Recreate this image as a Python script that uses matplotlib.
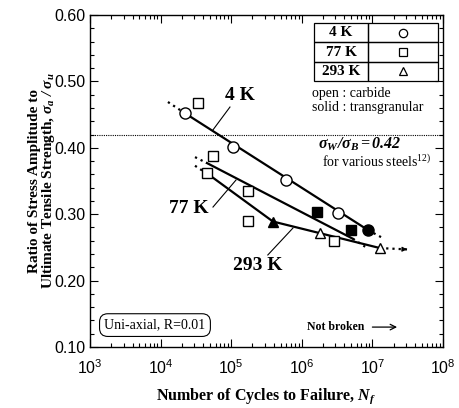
import numpy as np
import matplotlib
matplotlib.use("Agg")
import matplotlib.pyplot as plt
from matplotlib.patches import Rectangle
from matplotlib.ticker import FuncFormatter, MultipleLocator, LogLocator

plt.rcParams['mathtext.fontset'] = 'custom'
plt.rcParams['mathtext.rm'] = 'Liberation Serif'
plt.rcParams['mathtext.it'] = 'Liberation Serif:italic'
plt.rcParams['mathtext.bf'] = 'Liberation Serif:bold:italic'
plt.rcParams['mathtext.sf'] = 'Liberation Sans'

SERIF = 'Liberation Serif'
SANS = 'Liberation Sans'

# --- data ---
# 4 K
n_4k_open = [2.2e4, 1.07e5, 6.0e5, 3.3e6]
r_4k_open = [0.452, 0.401, 0.352, 0.302]
n_4k_solid = [8.7e6]
r_4k_solid = [0.276]
# 77 K
n_77k_open = [3.4e4, 5.5e4, 4.5e4, 1.74e5, 1.74e5, 2.9e6]
r_77k_open = [0.467, 0.388, 0.362, 0.335, 0.290, 0.260]
n_77k_solid = [1.65e6, 5.0e6]
r_77k_solid = [0.303, 0.276]
# 293 K
n_293k_open = [1.8e6, 1.3e7]
r_293k_open = [0.272, 0.249]
n_293k_solid = [3.9e5]
r_293k_solid = [0.289]

# fitted S-N lines (solid part) and dotted extensions
fit_4k_n = [2.22e4, 8.7e6]
fit_4k_r = [0.452, 0.276]
ext_4k_n = [[1.27e4, 2.22e4], [8.7e6, 1.41e7]]
ext_4k_r = [[0.469, 0.452], [0.276, 0.264]]

fit_77k_a_n = [4.54e4, 5.3e6]
fit_77k_a_r = [0.377, 0.263]
ext_77k_a_n = [[3.07e4, 4.54e4], [5.3e6, 7.9e6]]
ext_77k_a_r = [[0.386, 0.377], [0.263, 0.251]]

fit_77k_b_n = [5.35e4, 3.9e5]
fit_77k_b_r = [0.356, 0.289]
ext_77k_b_n = [3.07e4, 5.35e4]
ext_77k_b_r = [0.373, 0.356]

fit_293k_n = [3.9e5, 1.28e7]
fit_293k_r = [0.289, 0.249]
runout_293k_n = [1.28e7, 3.1e7]
runout_293k_r = [0.249, 0.247]

fatigue_limit_ratio = 0.42
temps = ['4 K', '77 K', '293 K']
temp_markers = ['o', 's', '^']

fig = plt.figure(figsize=(4.6, 4.08), dpi=100)
ax = fig.add_axes([0.1957, 0.1495, 0.7673, 0.8137])
ax.set_xscale('log')
ax.set_xlim(1e3, 1e8)
ax.set_ylim(0.10, 0.60)

lw = 1.6
dot = (0, (1, 1.8))

# lines
ax.plot(fit_4k_n, fit_4k_r, color='k', lw=lw, zorder=2)
for xs, ys in zip(ext_4k_n, ext_4k_r):
    ax.plot(xs, ys, color='k', lw=lw, ls=dot, zorder=2)
ax.plot(fit_77k_a_n, fit_77k_a_r, color='k', lw=lw, zorder=2)
for xs, ys in zip(ext_77k_a_n, ext_77k_a_r):
    ax.plot(xs, ys, color='k', lw=lw, ls=dot, zorder=2)
ax.plot(ext_77k_b_n, ext_77k_b_r, color='k', lw=lw, ls=dot, zorder=2)
ax.plot(fit_77k_b_n, fit_77k_b_r, color='k', lw=lw, zorder=2)
ax.plot(fit_293k_n, fit_293k_r, color='k', lw=lw, zorder=2)
ax.plot(runout_293k_n, runout_293k_r, color='k', lw=lw, ls=dot, zorder=2)
ax.annotate('', xy=(runout_293k_n[1], runout_293k_r[1]), xytext=(2.7e7, 0.2472),
            arrowprops=dict(arrowstyle='-|>', color='k', lw=0.8, mutation_scale=7,
                            shrinkA=0, shrinkB=0), zorder=2)

# markers
ms = {'o': 8, 's': 7.5, '^': 7.5}
groups = [(n_4k_open, r_4k_open, 'o', 'white'), (n_4k_solid, r_4k_solid, 'o', 'black'),
          (n_77k_open, r_77k_open, 's', 'white'), (n_77k_solid, r_77k_solid, 's', 'black'),
          (n_293k_open, r_293k_open, '^', 'white'), (n_293k_solid, r_293k_solid, '^', 'black')]
for xs, ys, m, fc in groups:
    ax.plot(xs, ys, m, ms=ms[m], mfc=fc, mec='k', mew=1.0, ls='none', zorder=3)

# fatigue limit reference
ax.axhline(fatigue_limit_ratio, color='k', lw=0.8, ls=(0, (1, 1)), zorder=1)
ax.text(1.7e6, 0.406, r'$\mathbf{\sigma_W/\sigma_B = 0.42}$', fontsize=11.5,
        ha='left', va='center')
ax.text(1.93e6, 0.379, r'for various steels$^{\mathrm{12)}}$', fontsize=10,
        family=SERIF, ha='left', va='center')

# temperature labels with leaders
lab = dict(fontsize=14, family=SERIF, weight='bold', ha='center', va='center')
ax.text(1.33e5, 0.4795, '4 K', **lab)
ax.plot([9.6e4, 5.5e4], [0.4614, 0.4268], color='k', lw=0.8)
ax.text(2.52e4, 0.3093, '77 K', **lab)
ax.plot([5.52e4, 1.17e5], [0.3108, 0.3515], color='k', lw=0.8)
ax.text(2.4e5, 0.222, '293 K', **lab)
ax.plot([3.3e5, 7.5e5], [0.2386, 0.2792], color='k', lw=0.8)

# symbol table
col = [0.635, 0.788, 0.986]
row_top, row_h = 0.976, 0.0583
for i, (t, m) in enumerate(zip(temps, temp_markers)):
    y0 = row_top - (i + 1) * row_h
    ax.add_patch(Rectangle((col[0], y0), col[1] - col[0], row_h, transform=ax.transAxes,
                           fill=False, lw=0.9, ec='k'))
    ax.add_patch(Rectangle((col[1], y0), col[2] - col[1], row_h, transform=ax.transAxes,
                           fill=False, lw=0.9, ec='k'))
    ax.text((col[0] + col[1]) / 2, y0 + row_h / 2, t, transform=ax.transAxes,
            fontsize=11, family=SERIF, weight='bold', ha='center', va='center')
    ax.plot([(col[1] + col[2]) / 2], [y0 + row_h / 2], m, transform=ax.transAxes,
            ms=6, mfc='white', mec='k', mew=0.9)
ax.text(0.629, 0.763, 'open : carbide', transform=ax.transAxes, fontsize=10,
        family=SERIF, ha='left', va='center')
ax.text(0.629, 0.722, 'solid : transgranular', transform=ax.transAxes, fontsize=10,
        family=SERIF, ha='left', va='center')

ax.text(0.184, 0.066, 'Uni-axial, R=0.01', transform=ax.transAxes, fontsize=10,
        family=SERIF, ha='center', va='center',
        bbox=dict(boxstyle='round,pad=0.35,rounding_size=0.6', fc='white', ec='k', lw=0.8))
ax.text(0.615, 0.06, 'Not broken', transform=ax.transAxes, fontsize=8.5,
        family=SERIF, weight='bold', ha='left', va='center')
ax.annotate('', xy=(0.87, 0.06), xytext=(0.80, 0.06), xycoords='axes fraction',
            arrowprops=dict(arrowstyle='->', color='k', lw=0.9, shrinkA=0, shrinkB=0))

# axes styling
ax.xaxis.set_major_locator(LogLocator(base=10, numticks=10))
ax.xaxis.set_minor_locator(LogLocator(base=10, subs=np.arange(2, 10), numticks=10))
ax.xaxis.set_major_formatter(FuncFormatter(lambda v, p: r'$\mathsf{10^{%d}}$' % round(np.log10(v))))
ax.yaxis.set_major_locator(MultipleLocator(0.10))
ax.yaxis.set_minor_locator(MultipleLocator(0.02))
ax.yaxis.set_major_formatter(FuncFormatter(lambda v, p: '%.2f' % v))
ax.tick_params(which='both', direction='in', top=True, right=True, width=0.8)
ax.tick_params(which='major', length=6, labelsize=11.5, pad=3)
ax.tick_params(which='minor', length=3)
ax.tick_params(axis='x', which='major', pad=8)
for lbl in ax.get_yticklabels():
    lbl.set_family(SANS)
for s in ax.spines.values():
    s.set_linewidth(1.0)

ax.set_xlabel(r'Number of Cycles to Failure, $\mathbf{N_f}$', fontsize=11.5,
              family=SERIF, weight='bold', labelpad=7)
fig.text(0.092, 0.557, 'Ratio of Stress Amplitude to\nUltimate Tensile Strength, '
         r'$\mathbf{\sigma_a\ /\ \sigma_u}$', rotation=90, fontsize=11, family=SERIF,
         weight='bold', ha='center', va='center', linespacing=0.95)

fig.savefig('out.png', dpi=100)
